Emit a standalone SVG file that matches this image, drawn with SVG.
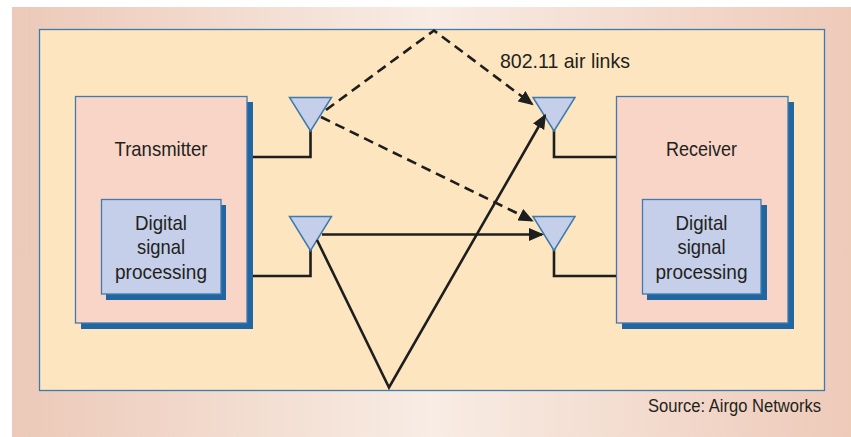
<svg xmlns="http://www.w3.org/2000/svg" width="851" height="437" viewBox="0 0 851 437">
  <defs>
    <linearGradient id="bg" x1="0" y1="0" x2="1" y2="0">
      <stop offset="0" stop-color="#ecc9b8"/>
      <stop offset="0.5" stop-color="#f8ece4"/>
      <stop offset="1" stop-color="#eecab9"/>
    </linearGradient>
    <marker id="arrow" markerUnits="userSpaceOnUse" markerWidth="16" markerHeight="14" refX="13" refY="6.5" orient="auto">
      <path d="M0,0 L15,6.5 L0,13 z" fill="#1e1e1e"/>
    </marker>
  </defs>
  <style>
    .panel { fill: #fde6bf; stroke: #3d7bb0; stroke-width: 1.3; }
    .box { fill: #f8d5c7; stroke: #3d7bb0; stroke-width: 1.3; }
    .dsp { fill: #c5cfe9; stroke: #3d7bb0; stroke-width: 1.3; }
    .shadow { fill: #2166a0; }
    .ant { fill: #c5cfe9; stroke: #3d7bb0; stroke-width: 1.5; stroke-linejoin: miter; }
    .feed { fill: none; stroke: #1e1e1e; stroke-width: 2.6; }
    .link { fill: none; stroke: #1e1e1e; stroke-width: 2.6; }
    .dash { stroke-dasharray: 10 6; }
    text { font-family: "Liberation Sans", Arial, sans-serif; fill: #231f20; font-size: 21px; }
    .src { font-size: 18px; }
  </style>

  <!-- backdrop and main panel -->
  <rect x="12" y="7" width="839" height="430" fill="url(#bg)"/>
  <rect class="panel" x="39.5" y="29.5" width="785" height="361"/>

  <!-- transmitter -->
  <g id="transmitter">
    <rect class="shadow" x="81" y="102" width="172" height="227"/>
    <rect class="box" x="75.5" y="96.5" width="171.5" height="226.5"/>
    <text x="161" y="155.5" text-anchor="middle" textLength="93" lengthAdjust="spacingAndGlyphs">Transmitter</text>
  </g>
  <g id="tx-dsp">
    <rect class="shadow" x="106" y="205" width="120" height="95"/>
    <rect class="dsp" x="101.5" y="199.5" width="119.5" height="94.5"/>
    <text x="161" y="229.5" text-anchor="middle" textLength="52" lengthAdjust="spacingAndGlyphs">Digital</text>
    <text x="161" y="254" text-anchor="middle" textLength="48" lengthAdjust="spacingAndGlyphs">signal</text>
    <text x="161" y="278.5" text-anchor="middle" textLength="92" lengthAdjust="spacingAndGlyphs">processing</text>
  </g>

  <!-- receiver -->
  <g id="receiver">
    <rect class="shadow" x="622" y="102" width="172" height="227"/>
    <rect class="box" x="616.5" y="96.5" width="171.5" height="226.5"/>
    <text x="701.5" y="155.5" text-anchor="middle" textLength="71" lengthAdjust="spacingAndGlyphs">Receiver</text>
  </g>
  <g id="rx-dsp">
    <rect class="shadow" x="647" y="205" width="120" height="95"/>
    <rect class="dsp" x="642.5" y="199.5" width="118.5" height="94.5"/>
    <text x="701.5" y="229.5" text-anchor="middle" textLength="52" lengthAdjust="spacingAndGlyphs">Digital</text>
    <text x="701.5" y="254" text-anchor="middle" textLength="48" lengthAdjust="spacingAndGlyphs">signal</text>
    <text x="701.5" y="278.5" text-anchor="middle" textLength="92" lengthAdjust="spacingAndGlyphs">processing</text>
  </g>

  <!-- antennas with their feed lines -->
  <g id="tx-antenna-1">
    <path class="feed" d="M253,157 H310.5 V128"/>
    <polygon class="ant" points="289.5,97.5 331.5,97.5 310.5,131"/>
  </g>
  <g id="tx-antenna-2">
    <path class="feed" d="M253,276 H310.5 V248"/>
    <polygon class="ant" points="289.5,216.5 331.5,216.5 310.5,250.5"/>
  </g>
  <g id="rx-antenna-1">
    <path class="feed" d="M616,157 H554 V128"/>
    <polygon class="ant" points="533,97.5 575,97.5 554,131"/>
  </g>
  <g id="rx-antenna-2">
    <path class="feed" d="M616,276 H554 V248"/>
    <polygon class="ant" points="533,216.5 575,216.5 554,250.5"/>
  </g>

  <!-- air links -->
  <g id="links">
    <polyline class="link dash" points="326,110 434,30.5 532,104" marker-end="url(#arrow)"/>
    <line class="link dash" x1="321" y1="117" x2="532" y2="220.5" marker-end="url(#arrow)"/>
    <line class="link" x1="322" y1="234.5" x2="542" y2="234.5" marker-end="url(#arrow)"/>
    <polyline class="link" points="317,240 389,387.5 545,115.5" marker-end="url(#arrow)"/>
  </g>

  <text x="500" y="68" textLength="130" lengthAdjust="spacingAndGlyphs">802.11 air links</text>
  <text class="src" x="821" y="412" text-anchor="end" textLength="173" lengthAdjust="spacingAndGlyphs">Source: Airgo Networks</text>
</svg>
